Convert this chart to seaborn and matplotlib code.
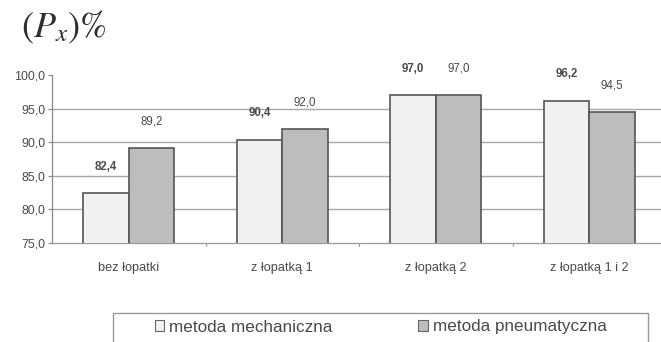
import matplotlib
matplotlib.use("Agg")
import matplotlib.pyplot as plt
from matplotlib.patches import Rectangle, Patch
import seaborn as sns
import pandas as pd

categories = ["bez łopatki", "z łopatką 1", "z łopatką 2", "z łopatką 1 i 2"]
methods = ["metoda mechaniczna", "metoda pneumatyczna"]
mechaniczna = [82.4, 90.4, 97.0, 96.2]
pneumatyczna = [89.2, 92.0, 97.0, 94.5]
y_ticks = [75, 80, 85, 90, 95, 100]

colors = {"metoda mechaniczna": "#f1f1f1", "metoda pneumatyczna": "#bdbdbd"}
edge = "#555555"
text_gray = "#4a4a4a"

df = pd.DataFrame({
    "kategoria": categories * 2,
    "metoda": [methods[0]] * 4 + [methods[1]] * 4,
    "wartosc": mechaniczna + pneumatyczna,
})

sns.set_style("white")
plt.rcParams["font.family"] = ["Liberation Sans", "DejaVu Sans"]
plt.rcParams["mathtext.fontset"] = "stix"

W, H = 661, 342
fig = plt.figure(figsize=(W / 100, H / 100), dpi=100)
ax = fig.add_axes([52 / W, 1 - 243 / H, 614 / W, 168 / H])

sns.barplot(data=df, x="kategoria", y="wartosc", hue="metoda", order=categories,
            hue_order=methods, palette=colors, width=0.59, gap=0,
            edgecolor=edge, linewidth=1.2, legend=False, ax=ax, zorder=3)

ax.set_ylim(75, 100)
ax.set_yticks(y_ticks)
ax.set_yticklabels([f"{t:.1f}".replace(".", ",") for t in y_ticks],
                   fontsize=8.9, color=text_gray)
for t in y_ticks[1:-1]:
    ax.axhline(t, color="#a8a8a8", lw=1.0, zorder=1)
ax.set_xlim(-0.5, 3.5)
ax.set_xticks(range(4))
ax.set_xticklabels(categories, fontsize=9.2, color=text_gray)
ax.tick_params(axis="x", length=0, pad=14)
ax.tick_params(axis="y", length=3, width=0.8, color="#888888", pad=2, left=True)
for b in [0.5, 1.5, 2.5]:
    ax.plot([b, b], [0, -0.018], transform=ax.get_xaxis_transform(),
            color="#999999", lw=0.8, clip_on=False)
ax.set_xlabel("")
ax.set_ylabel("")
for s in ["top", "right"]:
    ax.spines[s].set_visible(False)
ax.spines["left"].set_color("#888888")
ax.spines["bottom"].set_color("#999999")
ax.spines["left"].set_linewidth(0.9)
ax.spines["bottom"].set_linewidth(0.9)

# value labels above bars
for container, vals, weight in zip(ax.containers, [mechaniczna, pneumatyczna], ["bold", "normal"]):
    for bar, v in zip(container, vals):
        ax.annotate(f"{v:.1f}".replace(".", ","),
                    (bar.get_x() + bar.get_width() / 2, v),
                    xytext=(0, 19), textcoords="offset points",
                    ha="center", va="center", fontsize=8.3,
                    fontweight=weight, color=text_gray, annotation_clip=False)

# axis title
fig.text(21 / W, 1 - 27 / H, r"$(P_x)\%$", fontsize=26, ha="left", va="center",
         color="#2e2e2e")

# legend frame and entries
fig.patches.append(Rectangle((113 / W, -0.05), (648 - 113) / W, 1 - 313 / H + 0.05,
                             transform=fig.transFigure, fill=False,
                             edgecolor="#999999", lw=1.0))
handles = [Patch(facecolor=colors[m], edgecolor="#666666", lw=0.8) for m in methods]
leg = fig.legend(handles, methods, loc="center left", ncol=2,
                 bbox_to_anchor=(148 / W, 1 - 327 / H), frameon=False,
                 fontsize=12.3, handlelength=0.55, handleheight=0.55,
                 handletextpad=0.3, columnspacing=5.0, borderaxespad=0)
for t in leg.get_texts():
    t.set_color(text_gray)

fig.savefig("out.png", dpi=100)
